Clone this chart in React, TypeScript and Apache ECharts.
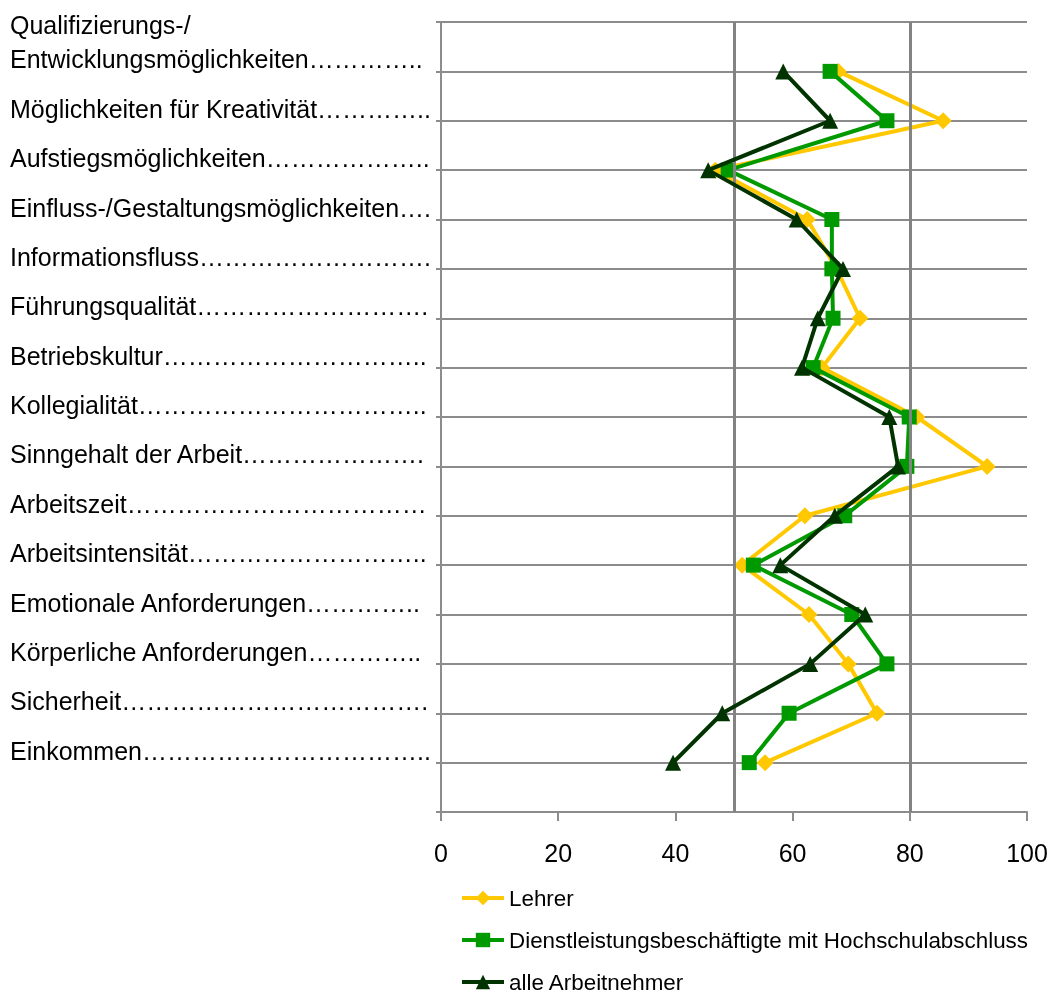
import React, { useEffect, useRef } from 'react';
import * as echarts from 'echarts';

const categories = [
  'Entwicklungsmöglichkeiten',
  'Möglichkeiten für Kreativität',
  'Aufstiegsmöglichkeiten',
  'Einfluss-/Gestaltungsmöglichkeiten',
  'Informationsfluss',
  'Führungsqualität',
  'Betriebskultur',
  'Kollegialität',
  'Sinngehalt der Arbeit',
  'Arbeitszeit',
  'Arbeitsintensität',
  'Emotionale Anforderungen',
  'Körperliche Anforderungen',
  'Sicherheit',
  'Einkommen',
];
const firstLabelLine = 'Qualifizierungs-/';

const seriesNames = ['Lehrer', 'Dienstleistungsbeschäftigte mit Hochschulabschluss', 'alle Arbeitnehmer'];
const lehrer = [67.8, 85.7, 46.8, 62.5, 67.5, 71.5, 65.0, 81.2, 93.2, 62.1, 51.4, 62.8, 69.5, 74.4, 55.3];
const dienst = [66.4, 76.1, 49.0, 66.7, 66.7, 66.9, 63.5, 79.9, 79.5, 68.9, 53.3, 70.1, 76.1, 59.4, 52.6];
const alle = [58.4, 66.4, 45.6, 60.7, 68.6, 64.3, 61.6, 76.5, 78.0, 67.2, 57.9, 72.4, 63.0, 48.0, 39.6];
const refLines = [50, 80];

const FAMILY = '"Liberation Sans", Arial, sans-serif';
const LABEL_SIZE = 25;

function withLeaders(name: string, width: number): string {
  const ctx = document.createElement('canvas').getContext('2d');
  if (!ctx) return name + '……………';
  ctx.font = `${LABEL_SIZE}px ${FAMILY}`;
  let s = name;
  while (ctx.measureText(s + '…').width <= width) s += '…';
  let dots = 0;
  while (dots < 2 && ctx.measureText(s + '.').width <= width) {
    s += '.';
    dots++;
  }
  return s;
}

export default function App() {
  const ref = useRef<HTMLDivElement>(null);
  useEffect(() => {
    if (!ref.current) return;
    const chart = echarts.init(ref.current, null, { renderer: 'svg' });
    const labelTexts = categories.map((c) => withLeaders(c, 422));
    const toPts = (arr: number[]) => arr.map((v, i) => [v, i + 1]);
    const colors = ['#FFC800', '#009900', '#003300'];
    const symbols = ['diamond', 'rect', 'triangle'];
    const sizes = [17, 15, 16];
    const datasets = [lehrer, dienst, alle];
    chart.setOption({
      animation: false,
      grid: { left: 441, right: 24, top: 22, bottom: 182, containLabel: false },
      legend: {
        orient: 'vertical',
        left: 460,
        top: 887,
        padding: 0,
        itemGap: 20,
        itemWidth: 42,
        itemHeight: 18,
        data: seriesNames,
        lineStyle: { width: 4 },
        textStyle: { fontFamily: FAMILY, fontSize: 22.4, color: '#000', lineHeight: 22 },
      },
      xAxis: {
        type: 'value',
        min: 0,
        max: 100,
        interval: 20,
        axisLine: { show: true, onZero: false, lineStyle: { color: '#8c8c8c', width: 2 } },
        axisTick: { show: true, length: 9, lineStyle: { color: '#8c8c8c', width: 2 } },
        splitLine: { show: false },
        axisLabel: { fontFamily: FAMILY, fontSize: 25, color: '#000', margin: 28 },
      },
      yAxis: {
        type: 'value',
        inverse: true,
        min: 0,
        max: 16,
        interval: 1,
        axisLine: { show: true, lineStyle: { color: '#8c8c8c', width: 2 } },
        axisTick: { show: true, length: 5, lineStyle: { color: '#8c8c8c', width: 2 } },
        splitLine: { show: true, lineStyle: { color: '#8c8c8c', width: 2 } },
        axisLabel: {
          fontFamily: FAMILY,
          fontSize: LABEL_SIZE,
          color: '#000',
          align: 'left',
          verticalAlign: 'bottom',
          lineHeight: 24,
          margin: 431,
          formatter: (v: number) => (v >= 1 && v <= categories.length ? labelTexts[v - 1] : ''),
        },
      },
      graphic: [
        {
          type: 'text',
          x: 10,
          y: 25,
          style: {
            text: firstLabelLine,
            font: `${LABEL_SIZE}px ${FAMILY}`,
            fill: '#000',
            align: 'left',
            verticalAlign: 'middle',
          },
        },
      ],
      series: [
        {
          type: 'line',
          name: '__ref',
          data: [],
          z: 1,
          silent: true,
          markLine: {
            silent: true,
            symbol: 'none',
            label: { show: false },
            lineStyle: { color: '#838383', width: 3, type: 'solid' },
            data: refLines.map((x) => ({ xAxis: x })),
          },
        },
        ...datasets.map((d, i) => ({
          type: 'line',
          name: seriesNames[i],
          data: toPts(d),
          z: 3 + i,
          symbol: symbols[i],
          symbolSize: sizes[i],
          showAllSymbol: true,
          lineStyle: { color: colors[i], width: 4 },
          itemStyle: { color: colors[i] },
        })),
      ],
    });
    return () => chart.dispose();
  }, []);
  return <div ref={ref} style={{ position: 'fixed', left: 0, top: 0, width: 1051, height: 994 }} />;
}
